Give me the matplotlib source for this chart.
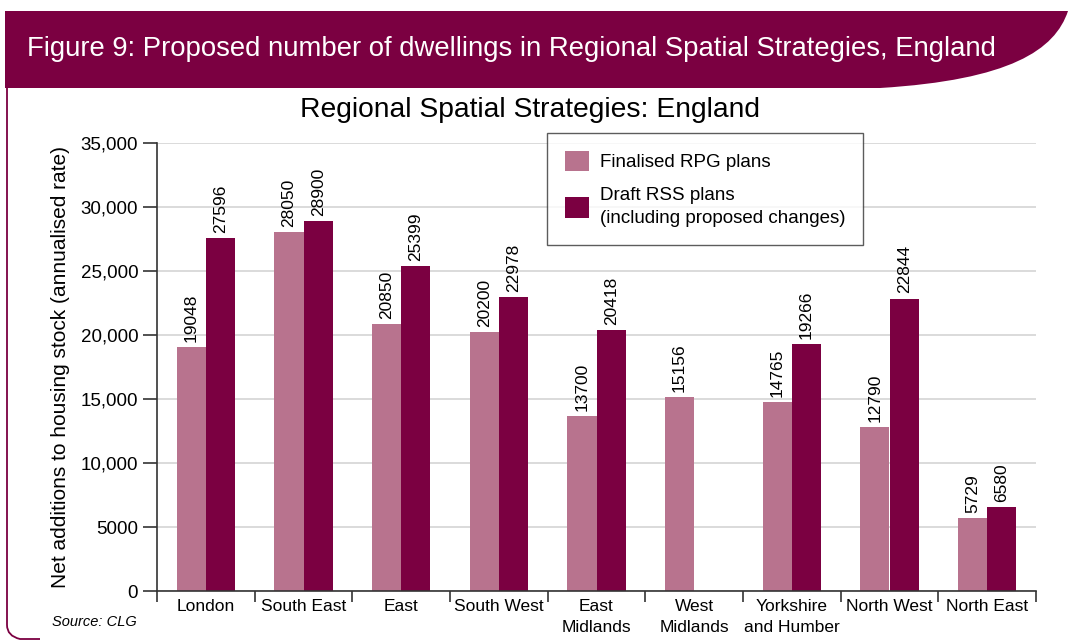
import matplotlib
matplotlib.use("Agg")
import matplotlib.pyplot as plt
import numpy as np
from matplotlib.path import Path
from matplotlib.patches import PathPatch

regions = ["London", "South East", "East", "South West", "East\nMidlands",
           "West\nMidlands", "Yorkshire\nand Humber", "North West", "North East"]
rpg = [19048, 28050, 20850, 20200, 13700, 15156, 14765, 12790, 5729]
rss = [27596, 28900, 25399, 22978, 20418, None, 19266, 22844, 6580]
yticks = [0, 5000, 10000, 15000, 20000, 25000, 30000, 35000]
ytick_labels = ["0", "5000", "10,000", "15,000", "20,000", "25,000", "30,000", "35,000"]

PINK = "#b8738e"
MAROON = "#7b0041"
font = ["Liberation Sans", "DejaVu Sans"]

W, H = 1068, 641
fig = plt.figure(figsize=(W / 100, H / 100), dpi=100)

# page decoration drawn in pixel coordinates
deco = fig.add_axes([0, 0, 1, 1])
deco.set_xlim(0, W)
deco.set_ylim(H, 0)
deco.axis("off")
deco.set_zorder(-1)
verts = [(5, 11), (1068, 11), (1055, 50), (1010, 80), (880, 88), (5, 88), (5, 11)]
codes = [Path.MOVETO, Path.LINETO, Path.CURVE4, Path.CURVE4, Path.CURVE4,
         Path.LINETO, Path.CLOSEPOLY]
deco.add_patch(PathPatch(Path(verts, codes), facecolor=MAROON, edgecolor="none"))
frame = Path([(7, 88), (7, 625), (7, 636), (20, 639), (40, 639)],
             [Path.MOVETO, Path.LINETO, Path.CURVE3, Path.CURVE3, Path.LINETO])
deco.add_patch(PathPatch(frame, facecolor="none", edgecolor=MAROON, lw=1.3))
deco.text(27, 49, "Figure 9: Proposed number of dwellings in Regional Spatial Strategies, England",
          color="white", fontsize=19.8, family=font, va="center", ha="left")
deco.text(530, 110, "Regional Spatial Strategies: England", fontsize=20.3,
          family=font, ha="center", va="center")
deco.text(52, 622, "Source: CLG", fontsize=10.5, family=font, style="italic",
          ha="left", va="center")

ax = fig.add_axes([157 / W, 1 - 591 / H, (1036 - 157) / W, (591 - 143) / H])
x = np.arange(len(regions))
bw = 0.30
ax.bar(x - bw / 2, rpg, bw, color=PINK, label="Finalised RPG plans", zorder=2)
rss_x = [xi + bw / 2 for xi, v in zip(x, rss) if v is not None]
rss_v = [v for v in rss if v is not None]
ax.bar(rss_x, rss_v, bw, color=MAROON,
       label="Draft RSS plans\n(including proposed changes)", zorder=2)

for xi, v in zip(x - bw / 2, rpg):
    ax.text(xi, v + 400, str(v), rotation=90, ha="center", va="bottom",
            fontsize=12.5, family=font)
for xi, v in zip(rss_x, rss_v):
    ax.text(xi, v + 400, str(v), rotation=90, ha="center", va="bottom",
            fontsize=12.5, family=font)

ax.set_xlim(-0.5, len(regions) - 0.5)
ax.set_ylim(0, 35000)
ax.set_yticks(yticks)
ax.set_yticklabels(ytick_labels, family=font, fontsize=13.5)
ax.yaxis.grid(True, color="#d4d4d4", lw=1.2, zorder=0)
ax.set_axisbelow(True)

ax.set_xticks(np.arange(len(regions) + 1) - 0.5)
ax.set_xticklabels([])
ax.set_xticks(x, minor=True)
ax.set_xticklabels(regions, minor=True, family=font, fontsize=12.5,
                   linespacing=1.45, va="top")
ax.tick_params(axis="x", which="minor", length=0, pad=6)
ax.tick_params(axis="x", which="major", direction="out", length=8, width=1.2,
               color="#333333")
ax.tick_params(axis="y", direction="out", length=10, width=1.2, color="#333333")

for s in ("top", "right"):
    ax.spines[s].set_visible(False)
for s in ("left", "bottom"):
    ax.spines[s].set_color("#333333")
    ax.spines[s].set_linewidth(1.2)

ax.set_ylabel("Net additions to housing stock (annualised rate)", family=font,
              fontsize=15, labelpad=8)

leg = ax.legend(loc="upper left", bbox_to_anchor=((547 - 157) / (1036 - 157), 1.022),
                fancybox=False, frameon=True, edgecolor="#333333",
                prop={"family": font, "size": 13.5}, handlelength=1.3,
                handleheight=1.3, handletextpad=0.55, borderpad=0.95,
                borderaxespad=0, labelspacing=0.85)
leg.get_frame().set_linewidth(1.0)
for t in leg.get_texts():
    t.set_linespacing(1.45)

fig.savefig("out.png", dpi=100)
